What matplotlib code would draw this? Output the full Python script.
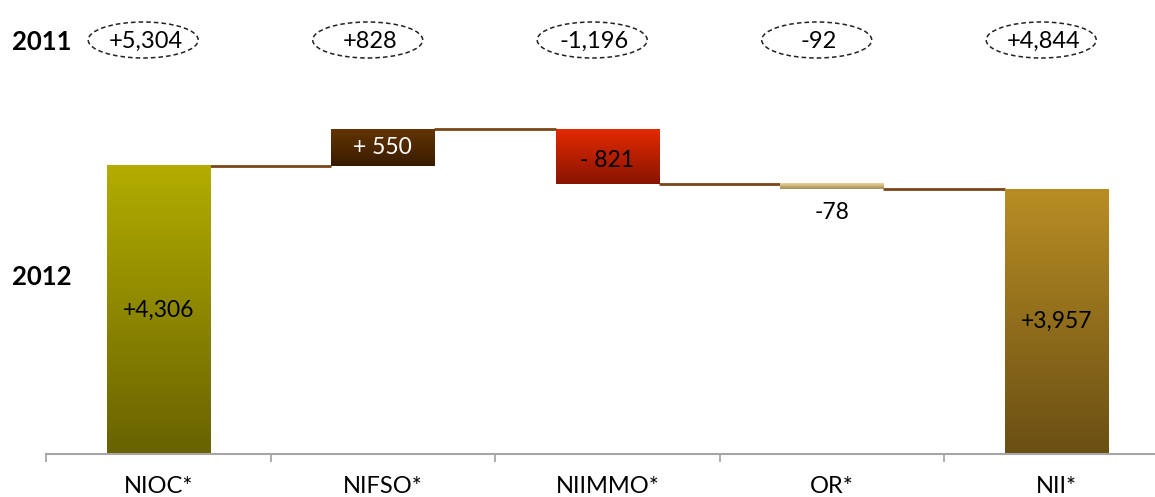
import numpy as np
import matplotlib.pyplot as plt
from matplotlib.colors import LinearSegmentedColormap
from matplotlib.patches import Ellipse
from matplotlib.transforms import blended_transform_factory

plt.rcParams['font.family'] = ['Lato', 'DejaVu Sans']

## Data
categories = ['NIOC*', 'NIFSO*', 'NIIMMO*', 'OR*', 'NII*']
values_2012 = [4306, 550, -821, -78, 3957]
labels_2012 = ['+4,306', '+ 550', '- 821', '-78', '+3,957']
labels_2011 = ['+5,304', '+828', '-1,196', '-92', '+4,844']
is_total = [True, False, False, False, True]

## Colours (top, bottom) of each bar's gradient
grad_colors = [('#b3ad00', '#686200'),
               ('#633400', '#381c00'),
               ('#e32a00', '#881400'),
               ('#ecd69a', '#a48a55'),
               ('#b88d24', '#6a4f14')]
text_colors = ['black', 'white', 'black', 'black', 'black']
line_color = '#7a4518'
bar_w = 0.46

fig = plt.figure(figsize=(11.55, 4.97), dpi=100)
ax = fig.add_axes([46 / 1155, 43 / 497, 1122.5 / 1155, 454 / 497])


def grad_bar(x, bottom, top, c_top, c_bot):
    cmap = LinearSegmentedColormap.from_list('g', [c_bot, c_top])
    ax.imshow(np.linspace(0, 1, 256).reshape(-1, 1), cmap=cmap, origin='lower',
              extent=[x - bar_w / 2, x + bar_w / 2, bottom, top],
              aspect='auto', zorder=2, interpolation='bicubic')


# waterfall bars
level = 0
tops = []
for i, v in enumerate(values_2012):
    if is_total[i]:
        bottom, top = 0, v
        level = v
    else:
        bottom, top = sorted([level, level + v])
        level = level + v
    tops.append(level)
    grad_bar(i, bottom, top, *grad_colors[i])
    if categories[i] == 'OR*':
        ax.text(i, bottom - 340, labels_2012[i], ha='center', va='center', fontsize=16.5,
                color=text_colors[i])
    else:
        ax.text(i, (bottom + top) / 2 - (60 if v < 0 else 0), labels_2012[i],
                ha='center', va='center', fontsize=16.5, color=text_colors[i], zorder=3)

# connectors
for i in range(len(values_2012) - 1):
    ax.plot([i + bar_w / 2, i + 1 - bar_w / 2], [tops[i], tops[i]],
            color=line_color, lw=2, solid_capstyle='butt', zorder=1)

# 2011 ellipses at top
tr = blended_transform_factory(ax.transData, fig.transFigure)
for i, lab in enumerate(labels_2011):
    xc = i - 0.067
    ax.add_patch(Ellipse((xc, 1 - 40 / 497), 0.49, 36 / 497, transform=tr,
                         fill=False, ls=(0, (3, 2)), lw=1.1, ec='#222222', clip_on=False))
    ax.text(xc + 0.01, 1 - 41 / 497, lab, transform=tr, ha='center', va='center',
            fontsize=17)

fig.text(42 / 1155, 1 - 42 / 497, '2011', ha='center', va='center', fontsize=18.5,
         fontweight='bold')
fig.text(42 / 1155, 1 - 277 / 497, '2012', ha='center', va='center', fontsize=18.5,
         fontweight='bold')

## Axes styling
ax.set_xlim(-0.5, 4.5)
ax.set_ylim(0, 454 / 0.0669)
ax.set_xticks(range(len(categories)))
ax.set_xticklabels(categories, fontsize=17)
ax.set_xticks(np.arange(-0.5, 5, 1), minor=True)
ax.tick_params(axis='x', which='major', length=0, pad=16)
ax.tick_params(axis='x', which='minor', length=6, color='#a0a0a0', width=1.2)
ax.set_yticks([])
for s in ['left', 'top', 'right']:
    ax.spines[s].set_visible(False)
ax.spines['bottom'].set_color('#a6a6a6')
ax.spines['bottom'].set_linewidth(1.5)

fig.savefig('out.png', dpi=100)
